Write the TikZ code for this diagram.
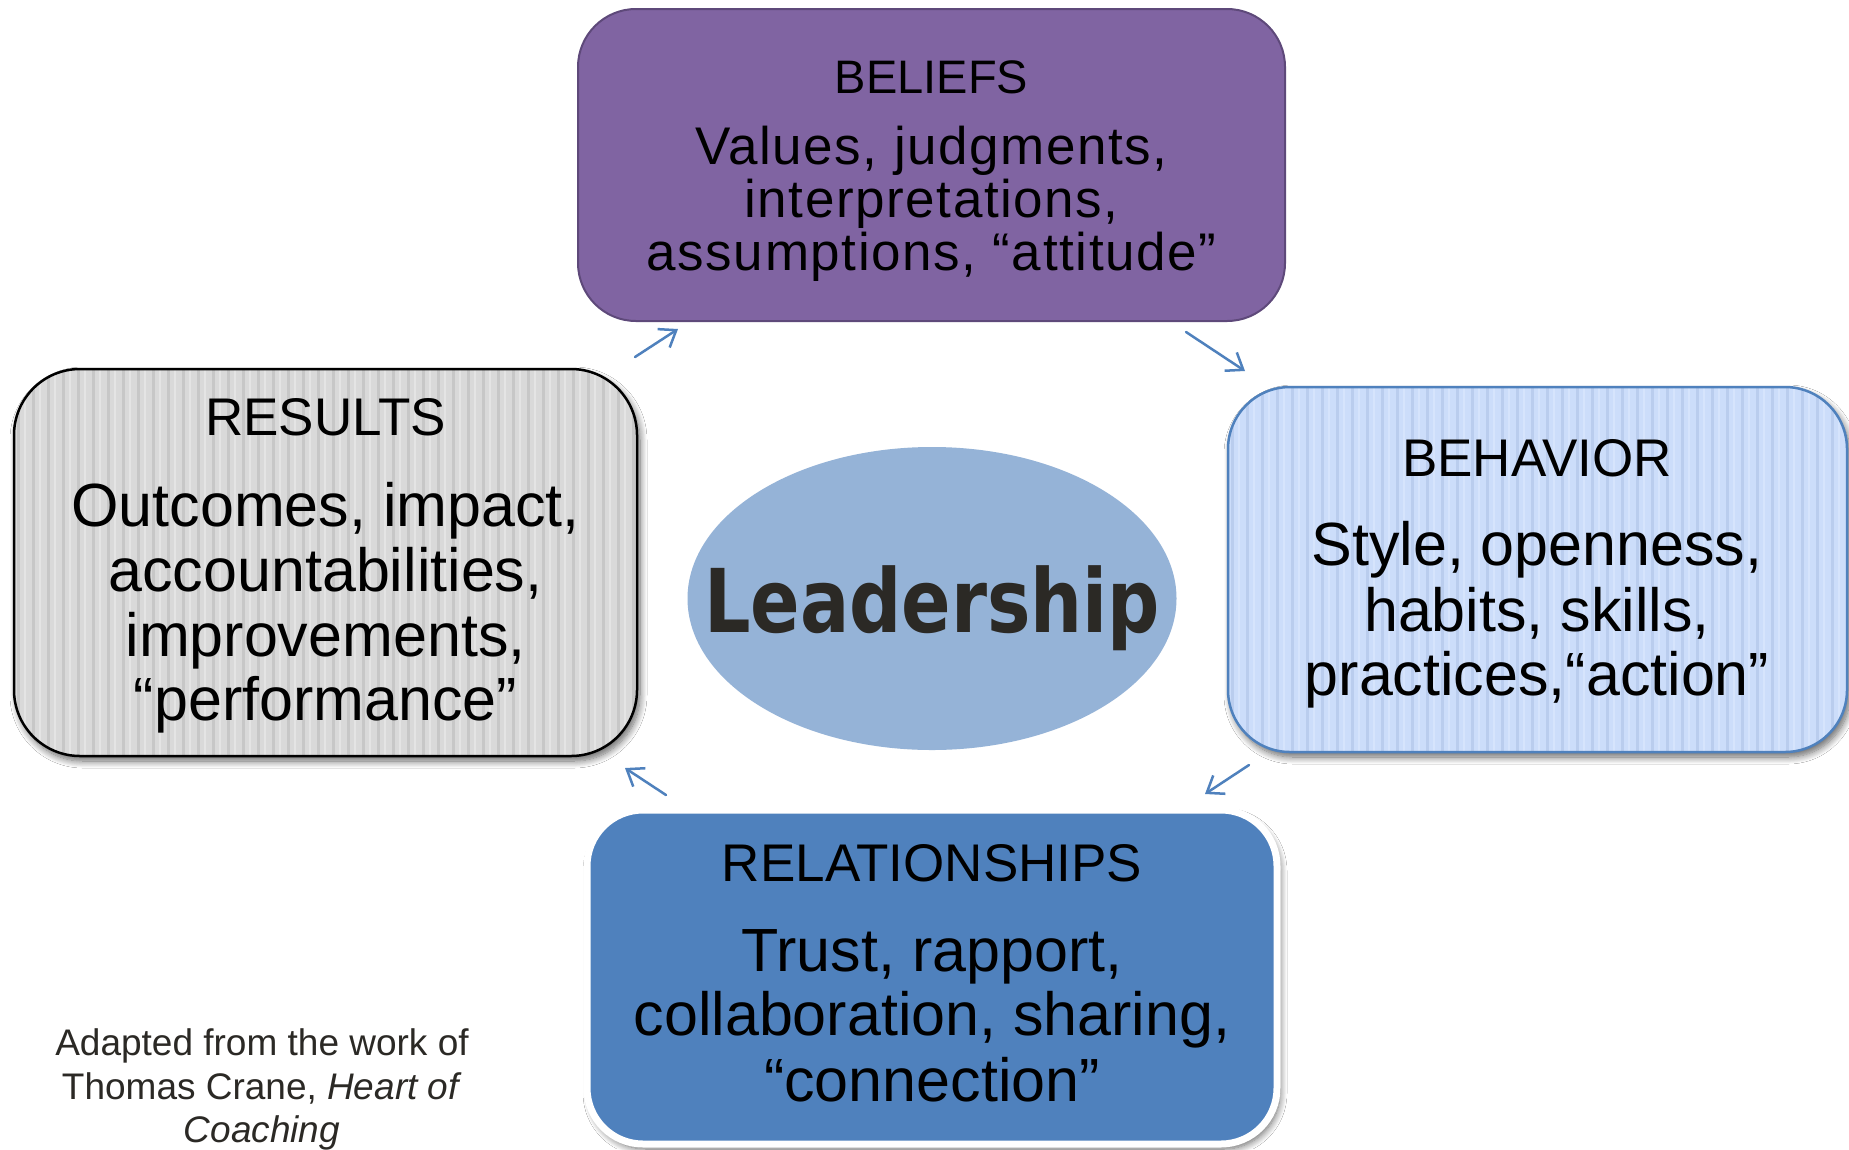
\documentclass[tikz,border=0pt]{standalone}
\usepackage{fontspec}
\setmainfont{Liberation Sans}
\newfontfamily\leadfont[FakeStretch=0.83]{DejaVu Sans}
\newfontfamily\spacedfont[LetterSpace=3]{Liberation Sans}
\usetikzlibrary{arrows.meta,shapes.geometric,shadows.blur}

\definecolor{beliefsfill}{RGB}{128,100,162}
\definecolor{beliefsline}{RGB}{94,73,122}
\definecolor{resultsfill}{RGB}{217,217,217}
\definecolor{resultsdark}{RGB}{199,199,199}
\definecolor{resultslight}{RGB}{228,228,228}
\definecolor{behavfill}{RGB}{204,221,250}
\definecolor{behavdark}{RGB}{186,205,238}
\definecolor{behavlight}{RGB}{214,228,252}
\definecolor{accent}{RGB}{79,129,189}
\definecolor{ellfill}{RGB}{149,179,215}
\definecolor{darktext}{RGB}{43,41,37}

\begin{document}
\begin{tikzpicture}[x=1pt,y=-1pt,
  card/.style={rectangle, rounded corners=#1, inner sep=0pt, outer sep=0pt},
  softshadow/.style={blur shadow={shadow xshift=3pt, shadow yshift=-5pt,
      shadow blur radius=7pt, shadow blur steps=10, shadow opacity=60}},
  stripes/.style 2 args={path picture={
      \foreach \k in {0,...,45}{
        \draw[#1, line width=3pt]
          ([xshift=\k*15pt+4pt]path picture bounding box.north west) --
          ([xshift=\k*15pt+4pt]path picture bounding box.south west);
        \draw[#2, line width=1.5pt]
          ([xshift=\k*15pt+11pt]path picture bounding box.north west) --
          ([xshift=\k*15pt+11pt]path picture bounding box.south west);
      }}},
  headA/.style={font=\fontsize{47}{47}\selectfont, anchor=base, inner sep=0pt},
  lineA/.style={font=\spacedfont\fontsize{53}{53}\selectfont, anchor=base, inner sep=0pt},
  head/.style={font=\fontsize{53}{53}\selectfont, anchor=base, inner sep=0pt},
  line/.style={font=\fontsize{61}{61}\selectfont, anchor=base, inner sep=0pt},
  note/.style={font=\fontsize{37}{37}\selectfont, text=darktext, anchor=base, inner sep=0pt},
  flow/.style={draw=accent, line width=2.5pt, line cap=round,
      -{Straight Barb[length=15pt,width=22pt]}}
]
\fill[white] (0,0) rectangle (1849,1149);
\useasboundingbox (0,0) rectangle (1849,1149);

% ---- the four cards ----
\node[card=58pt, fill=beliefsfill, draw=beliefsline, line width=2pt,
      minimum width=707pt, minimum height=312pt] (beliefs) at (931.5,165) {};

\node[card=66pt, softshadow, fill=resultsfill, draw=black, line width=2.5pt,
      stripes={resultsdark}{resultslight},
      minimum width=623pt, minimum height=387pt] (results) at (325.5,562.5) {};

\node[card=62pt, softshadow, fill=behavfill, draw=accent, line width=2.5pt,
      stripes={behavdark}{behavlight},
      minimum width=619pt, minimum height=365pt] (behavior) at (1537.5,569.5) {};

\node[card=56pt, softshadow, fill=accent, draw=white, line width=7pt,
      minimum width=690pt, minimum height=334pt] (relations) at (932,977) {};

% ---- centre ellipse ----
\node[ellipse, fill=ellfill, inner sep=0pt, minimum width=489pt, minimum height=303pt]
      (core) at (932,598.5) {};
\node[font={\leadfont\fontsize{88}{88}\bfseries\selectfont}, text=darktext,
      anchor=base, inner sep=0pt] (leadword) at (932,632) {Leadership};

% ---- card texts ----
\node[headA] (bt) at (931.5,93)  {BELIEFS};
\node[lineA] (b1) at (931.5,164) {Values, judgments,};
\node[lineA] (b2) at (931.5,217) {interpretations,};
\node[lineA] (b3) at (931.5,270) {assumptions, “attitude”};

\node[head] (rt) at (325.5,435) {RESULTS};
\node[line] (r1) at (325.5,526) {Outcomes, impact,};
\node[line] (r2) at (325.5,591) {accountabilities,};
\node[line] (r3) at (325.5,656) {improvements,};
\node[line] (r4) at (325.5,720) {“performance”};

\node[head] (ht) at (1537,476) {BEHAVIOR};
\node[line] (h1) at (1537,565) {Style, openness,};
\node[line] (h2) at (1537,631) {habits, skills,};
\node[line] (h3) at (1537,695) {practices,“action”};

\node[head] (lt) at (932,881)  {RELATIONSHIPS};
\node[line] (l1) at (932,971)  {Trust, rapport,};
\node[line] (l2) at (932,1035) {collaboration, sharing,};
\node[line] (l3) at (932,1101) {“connection”};

% ---- cycle arrows ----
\coordinate (a1s) at (635,357);  \coordinate (a1e) at (678,329);
\coordinate (a2s) at (1186,332); \coordinate (a2e) at (1245,371);
\coordinate (a3s) at (1249,765); \coordinate (a3e) at (1205,794);
\coordinate (a4s) at (666,795);  \coordinate (a4e) at (625,768);
\draw[flow] (a1s) -- (a1e);
\draw[flow] (a2s) -- (a2e);
\draw[flow] (a3s) -- (a3e);
\draw[flow] (a4s) -- (a4e);

% ---- source note ----
\node[note] (n1) at (262,1055) {Adapted from the work of};
\node[note] (n2) at (262,1099) {Thomas Crane, \textit{Heart of}};
\node[note] (n3) at (262,1142) {\textit{Coaching}};
\end{tikzpicture}
\end{document}
